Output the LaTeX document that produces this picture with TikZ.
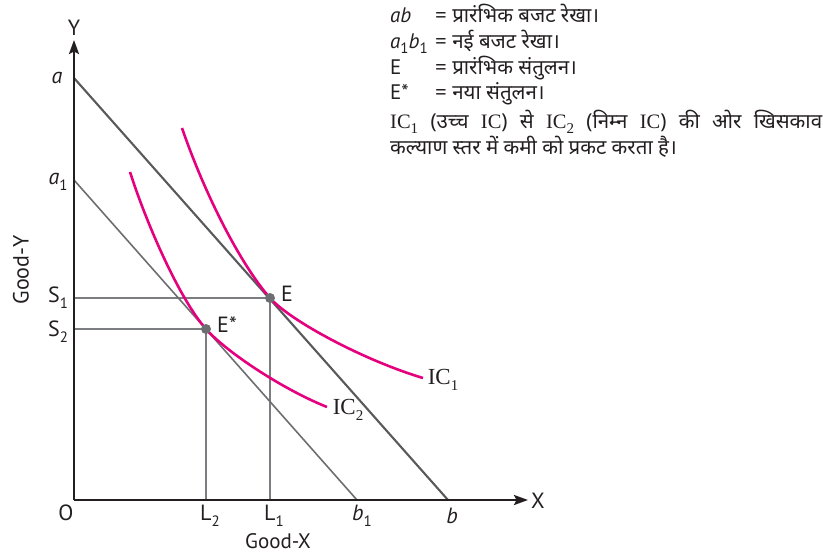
\documentclass[tikz,border=0pt]{standalone}
\usepackage{fontspec}
\setmainfont{PT Sans}
\newfontfamily\deva[Script=Devanagari]{Noto Sans}
\newfontfamily\serific{Liberation Serif}
\usetikzlibrary{arrows.meta}
\definecolor{ink}{HTML}{231F20}
\definecolor{budgetA}{HTML}{58595B}
\definecolor{budgetB}{HTML}{6D6E71}
\definecolor{guide}{HTML}{7C7D80}
\definecolor{mag}{HTML}{E5007E}
\newcommand\lowsub[1]{\raisebox{-0.28em}{\fontsize{15}{15}\selectfont #1}}
\tikzset{
  lbl/.style={inner sep=0pt, text=ink, font=\fontsize{22}{26}\selectfont},
  icl/.style={inner sep=0pt, text=ink, font=\serific\fontsize{23}{26}\selectfont},
  leg/.style={inner sep=0pt, text=ink, anchor=base west, font=\deva\fontsize{20.5}{24}\selectfont},
  legl/.style={inner sep=0pt, text=ink, anchor=base west, font=\fontsize{21}{24}\selectfont},
  axis/.style={draw=ink, line width=2.3pt, -{Stealth[length=14pt,width=10pt,inset=2.5pt]}},
  budA/.style={draw=budgetA, line width=2.1pt},
  budB/.style={draw=budgetB, line width=1.6pt},
  guideline/.style={draw=guide, line width=1.6pt},
  indiff/.style={draw=mag, line width=2.6pt},
  dot/.style={circle, fill=budgetB, inner sep=0pt, minimum size=10pt}
}
\begin{document}
\begin{tikzpicture}[x=1pt,y=-1pt]
\useasboundingbox (0,0) rectangle (823,554);
% coordinates
\coordinate (O) at (74,500);
\coordinate (Ytip) at (74,40);
\coordinate (Xtip) at (528,500);
\coordinate (A) at (74,78);
\coordinate (B) at (448,500);
\coordinate (A1) at (74,180);
\coordinate (B1) at (357,500);
\coordinate (S1) at (74,298);
\coordinate (S2) at (74,329);
\coordinate (L1) at (270,500);
\coordinate (L2) at (206,500);
% guide lines
\draw[guideline] (S1) -- (270,298) -- (L1);
\draw[guideline] (S2) -- (206,329) -- (L2);
% budget lines
\draw[budA] (A) -- (B);
\draw[budB] (A1) -- (B1);
% indifference curves
\draw[indiff] (182,128) .. controls (205,195) and (241,265) .. (270,298)
  .. controls (290,320.6) and (363,360) .. (423,378);
\draw[indiff] (130,172) .. controls (148,228) and (181,301) .. (206,329)
  .. controls (226,351.6) and (282,389) .. (327,407);
% axes
\draw[axis] (O) -- (Ytip);
\draw[axis] (O) -- (Xtip);
% equilibrium dots
\node[dot] (E) at (270,298) {};
\node[dot] (Es) at (206,329) {};
% labels
\node[lbl] (Ylab) at (74,28) {Y};
\node[lbl] (Xlab) at (538,501) {X};
\node[lbl] (Olab) at (66,513) {O};
\node[lbl] (alab) at (57,78) {\textit{a}};
\node[lbl] (a1lab) at (58,182) {\textit{a}\lowsub{1}};
\node[lbl] (s1lab) at (58,298) {S\lowsub{1}};
\node[lbl] (s2lab) at (58,332) {S\lowsub{2}};
\node[lbl] (l2lab) at (210,516) {L\lowsub{2}};
\node[lbl] (l1lab) at (274,516) {L\lowsub{1}};
\node[lbl] (b1lab) at (362,516) {\textit{b}\lowsub{1}};
\node[lbl] (blab) at (452,516) {\textit{b}};
\node[lbl, anchor=base, font=\fontsize{21}{26}\selectfont] (gx) at (278,548) {Good-X};
\node[lbl, rotate=90] (gy) at (21,270) {Good-Y};
\node[lbl] (Elab) at (287,294) {E};
\node[lbl] (Eslab) at (227,325) {E*};
\node[icl] (ic1) at (443,380) {IC\lowsub{1}};
\node[icl] (ic2) at (348,410) {IC\lowsub{2}};
% legend
\node[legl] (k1) at (390,22) {\textit{ab}};
\node[leg] (v1) at (435,22) {= प्रारंभिक बजट रेखा।};
\node[legl] (k2) at (390,48) {\textit{a}\lowsub{1}\textit{b}\lowsub{1}};
\node[leg] (v2) at (435,48) {= नई बजट रेखा।};
\node[legl] (k3) at (390,74) {E};
\node[leg] (v3) at (435,74) {= प्रारंभिक संतुलन।};
\node[legl] (k4) at (390,99) {E*};
\node[leg] (v4) at (435,99) {= नया संतुलन।};
\node[leg] (v5) at (390,128) {\makebox[432pt][s]{{\serific IC}\lowsub{\serific 1} (उच्च {\serific IC}) से {\serific IC}\lowsub{\serific 2} (निम्न {\serific IC}) की ओर खिसकाव}};
\node[leg] (v6) at (390,154) {कल्याण स्तर में कमी को प्रकट करता है।};
\end{tikzpicture}
\end{document}
